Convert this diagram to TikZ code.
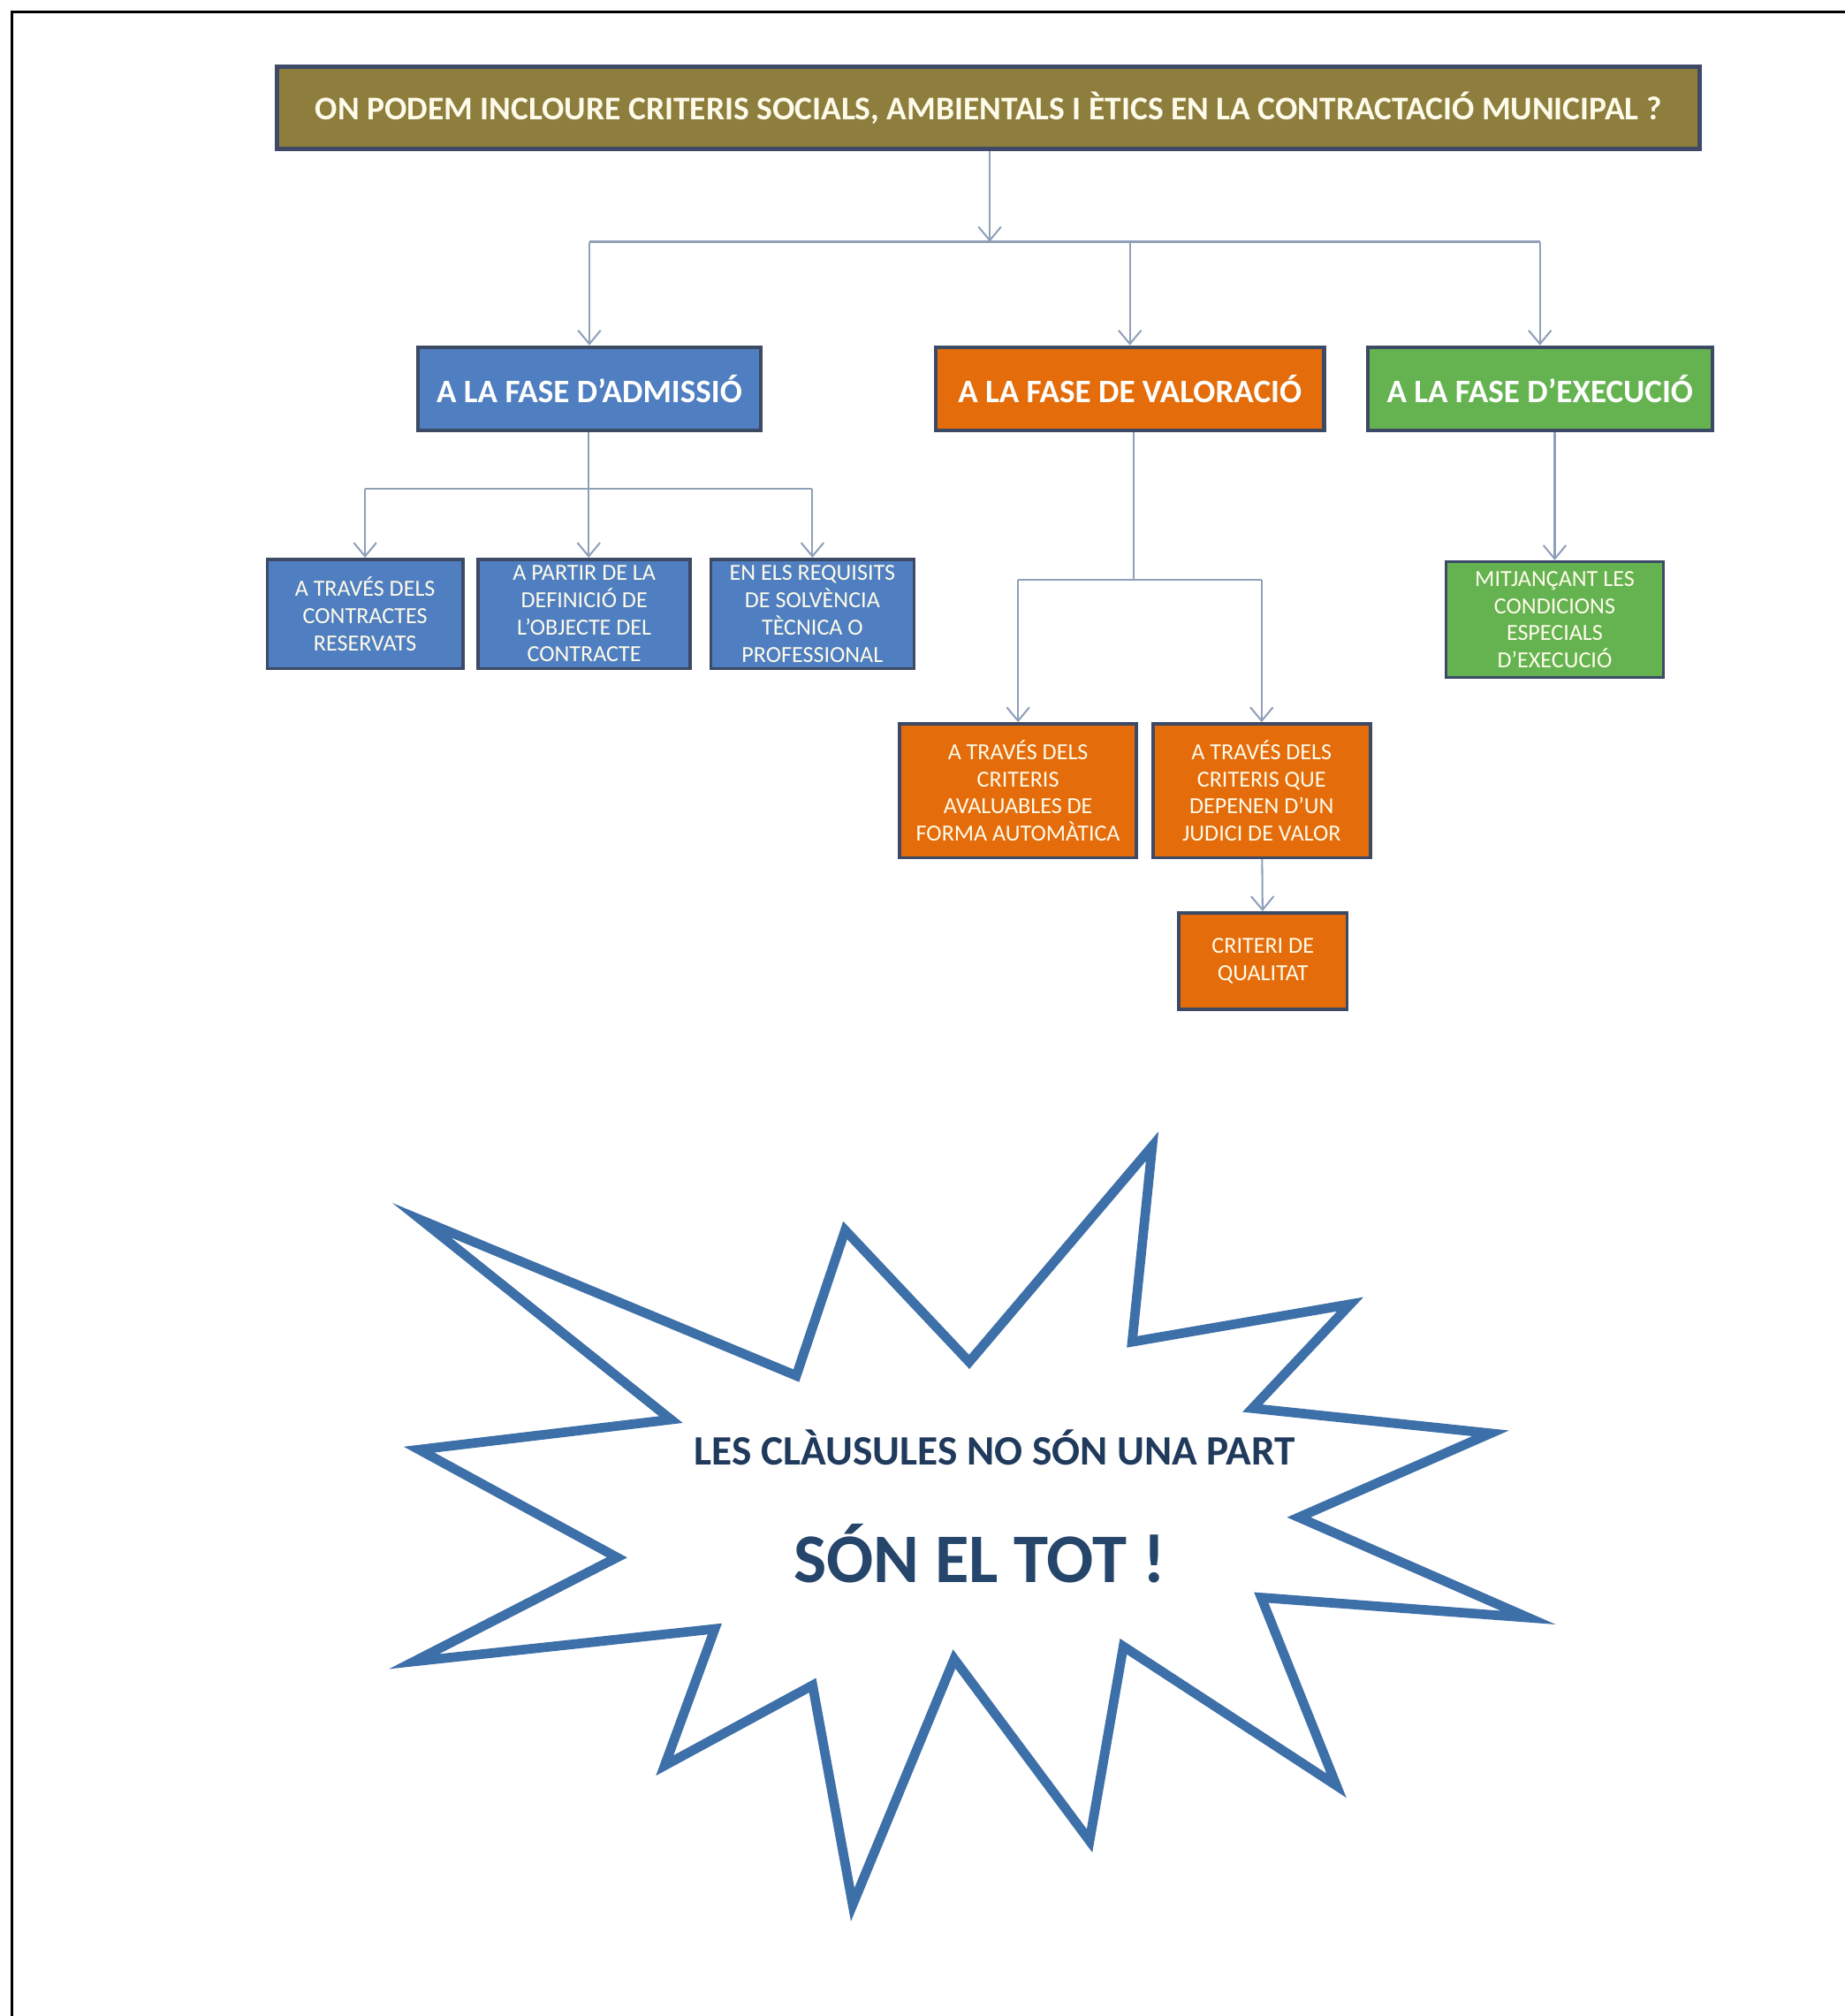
\documentclass[tikz,border=0pt]{standalone}
\usepackage{fontspec}
\setmainfont{Carlito}
\usepackage{tikz}
\usetikzlibrary{arrows.meta,positioning,calc}
\definecolor{Olive}{HTML}{8D7E3E}
\definecolor{Slate}{HTML}{3F4A68}
\definecolor{AdmBlue}{HTML}{4F7FC0}
\definecolor{ValOrange}{HTML}{E46C0A}
\definecolor{ExeGreen}{HTML}{64B350}
\definecolor{Edge}{HTML}{3C4A66}
\definecolor{Wire}{HTML}{8FA0B8}
\definecolor{StarBlue}{HTML}{3D6FA8}
\definecolor{InkNavy}{HTML}{1F3A5C}
\definecolor{Cream}{HTML}{FFFBEA}

\begin{document}
\begin{tikzpicture}[x=0.01cm, y=-0.01cm, >={Straight Barb[length=3pt,width=5pt]}]
\tikzset{title/.style={draw=Slate, line width=1pt, fill=Olive, text=Cream, inner sep=0, font=\fontsize{7.33}{9}\selectfont\bfseries, minimum width=11.06cm, minimum height=0.64cm}, phase/.style={draw=Edge, line width=0.8pt, text=white, inner sep=0, font=\fontsize{7.25}{9}\selectfont\bfseries, minimum height=0.65cm}, sub/.style={draw=Edge, line width=0.7pt, text=Cream, inner sep=0, align=center, font=\fontsize{5.1}{6}\selectfont}, link/.style={draw=Wire, line width=0.4pt}}
\useasboundingbox (0,0) rectangle (1435,1568);
\draw[line width=0.6pt] (9,1568) -- (9,9) -- (1435,9);
% question and the three phases
\node[title] (title) at (769,84) {ON PODEM INCLOURE CRITERIS SOCIALS, AMBIENTALS I ÈTICS EN LA CONTRACTACIÓ MUNICIPAL ?};
\node[phase, fill=AdmBlue, minimum width=2.67cm] (adm) at (458.5,302.5) {A LA FASE D’ADMISSIÓ};
\node[phase, fill=ValOrange, minimum width=3.02cm] (val) at (879,302.5) {A LA FASE DE VALORACIÓ};
\node[phase, fill=ExeGreen, minimum width=2.68cm] (exe) at (1198,302.5) {A LA FASE D’EXECUCIÓ};
% admissio
\node[sub, fill=AdmBlue, minimum width=1.52cm, minimum height=0.85cm] (trav) at (284,477.5) {A TRAVÉS DELS\\CONTRACTES\\RESERVATS};
\node[sub, fill=AdmBlue, minimum width=1.65cm, minimum height=0.85cm] (part) at (454.5,477.5) {A PARTIR DE LA\\DEFINICIÓ DE\\L’OBJECTE DEL\\CONTRACTE};
\node[sub, fill=AdmBlue, minimum width=1.58cm, minimum height=0.85cm] (solv) at (632,477.5) {EN ELS REQUISITS\\DE SOLVÈNCIA\\TÈCNICA O\\PROFESSIONAL};
% valoracio
\node[sub, fill=ValOrange, minimum width=1.84cm, minimum height=1.04cm] (auto) at (792,615) {A TRAVÉS DELS\\CRITERIS\\AVALUABLES DE\\FORMA AUTOMÀTICA};
\node[sub, fill=ValOrange, minimum width=1.69cm, minimum height=1.04cm] (judici) at (981.5,615) {A TRAVÉS DELS\\CRITERIS QUE\\DEPENEN D’UN\\JUDICI DE VALOR};
\node[sub, fill=ValOrange, minimum width=1.31cm, minimum height=0.75cm] (qual) at (982.5,747.5) {CRITERI DE\\QUALITAT};
% execucio
\node[sub, fill=ExeGreen, minimum width=1.69cm, minimum height=0.90cm] (mitj) at (1209.5,482) {MITJANÇANT LES\\CONDICIONS\\ESPECIALS\\D’EXECUCIÓ};
\coordinate (tj) at (770,188);
\coordinate (aj) at (458,380);
\coordinate (vj) at (882,451);
\draw[link,->] (title.south -| tj) -- (tj);
\draw[link] (adm.north |- tj) -- (exe.north |- tj);
\draw[link,->] (adm.north |- tj) -- (adm.north);
\draw[link,->] (val.north |- tj) -- (val.north);
\draw[link,->] (exe.north |- tj) -- (exe.north);
\draw[link] (adm.south -| aj) -- (aj);
\draw[link] (trav.north |- aj) -- (solv.north |- aj);
\draw[link,->] (trav.north |- aj) -- (trav.north);
\draw[link,->] (aj) -- (aj |- part.north);
\draw[link,->] (solv.north |- aj) -- (solv.north);
\draw[link] (val.south -| vj) -- (vj);
\draw[link] (auto.north |- vj) -- (judici.north |- vj);
\draw[link,->] (auto.north |- vj) -- (auto.north);
\draw[link,->] (judici.north |- vj) -- (judici.north);
\draw[link,->] (judici) -- (qual);
\draw[link,->] (exe.south -| mitj) -- (mitj);
% starburst
\begin{scope}[shift={(755,1185)}, scale=0.975, shift={(-755,-1185)}]
\draw[StarBlue, line width=2.1pt, line join=miter, fill=white] (317,943) -- (616,1067) -- (655,951) -- (754,1056) -- (900,884) -- (884,1040) -- (1058,1010) -- (980,1093) -- (1170,1113) -- (1017,1180) -- (1200,1260) -- (987,1244) -- (1047,1394) -- (877,1283) -- (850,1438) -- (742,1293) -- (661,1489) -- (629,1314) -- (511,1378) -- (551,1269) -- (311,1295) -- (473,1212) -- (315,1126) -- (516,1102) -- cycle;
\end{scope}
\node[text=InkNavy, font=\fontsize{9.25}{11}\selectfont\bfseries] (part1) at (774,1126) {LES CLÀUSULES NO SÓN UNA PART};
\node[text=InkNavy!80!StarBlue, font=\fontsize{15.4}{18}\selectfont\bfseries] (tot) at (762,1208) {SÓN EL TOT !};
\end{tikzpicture}
\end{document}
